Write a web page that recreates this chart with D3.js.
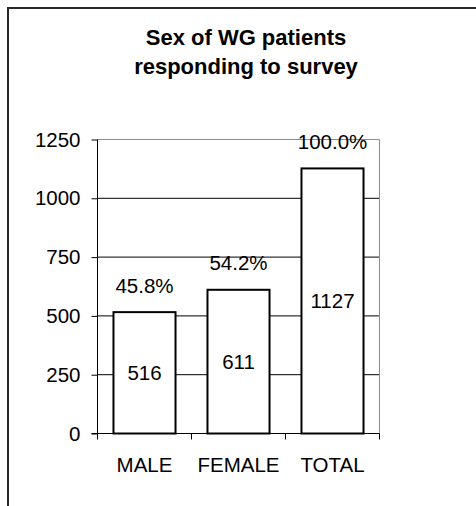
<!DOCTYPE html>
<html>
<head>
<meta charset="utf-8">
<script src="https://cdn.jsdelivr.net/npm/d3@7"></script>
<style>
  html, body { margin: 0; padding: 0; background: #fff; }
  svg { display: block; }
  text { font-family: "Liberation Sans", Arial, sans-serif; fill: #000; }
</style>
</head>
<body>
<svg id="chart" width="476" height="506"></svg>
<script>
// ---- data ----
const categories = ["MALE", "FEMALE", "TOTAL"];
const counts = [516, 611, 1127];
const percentLabels = ["45.8%", "54.2%", "100.0%"];
const yTicks = [0, 250, 500, 750, 1000, 1250];
const titleLines = ["Sex of WG patients", "responding to survey"];

// ---- layout ----
const svg = d3.select("#chart");
const plot = { left: 97.5, right: 379.5, top: 139.5, bottom: 433.5 };

// outer frame (top and left edges visible)
svg.append("line").attr("x1", 8).attr("x2", 476).attr("y1", 8).attr("y2", 8)
  .attr("stroke", "#2a2a2a").attr("stroke-width", 2);
svg.append("line").attr("x1", 8).attr("x2", 8).attr("y1", 7).attr("y2", 506)
  .attr("stroke", "#2a2a2a").attr("stroke-width", 2);

// title
svg.append("text")
  .attr("x", 246).attr("y", 45)
  .attr("text-anchor", "middle")
  .style("font-size", "22px").style("font-weight", "bold")
  .selectAll("tspan").data(titleLines).join("tspan")
  .attr("x", 246).attr("dy", (d, i) => i === 0 ? 0 : 29)
  .text(d => d);

// scales
const x = d3.scaleBand().domain(categories)
  .range([plot.left, plot.right]).paddingInner(0.34).paddingOuter(0.17);
const y = d3.scaleLinear().domain([0, 1250]).range([plot.bottom, plot.top]);

// gridlines
svg.append("g").selectAll("line").data(yTicks.filter(t => t > 0 && t < 1250)).join("line")
  .attr("x1", plot.left).attr("x2", plot.right)
  .attr("y1", d => y(d)).attr("y2", d => y(d))
  .attr("stroke", "#000").attr("stroke-width", 1);

// plot area border (top + right) in grey
svg.append("path")
  .attr("d", `M${plot.left},${plot.top}H${plot.right}V${plot.bottom}`)
  .attr("fill", "none").attr("stroke", "#8c8c8c").attr("stroke-width", 1);

// bars
svg.append("g").selectAll("rect").data(categories).join("rect")
  .attr("x", d => x(d))
  .attr("width", x.bandwidth())
  .attr("y", (d, i) => y(counts[i]))
  .attr("height", (d, i) => y(0) - y(counts[i]))
  .attr("fill", "#fff").attr("stroke", "#000").attr("stroke-width", 2);

// y axis
const yAxis = d3.axisLeft(y).tickValues(yTicks).tickSize(6).tickPadding(11).tickFormat(d3.format("d"));
const gy = svg.append("g").attr("transform", `translate(${plot.left},0)`).call(yAxis);
gy.select(".domain").attr("stroke", "#000").attr("d", `M0,${plot.top}V${plot.bottom}`);
gy.selectAll(".tick line").attr("stroke", "#000");
gy.selectAll(".tick text")
  .style("font-size", "20.5px")
  .style("font-family", "'Liberation Sans', Arial, sans-serif")
  .attr("fill", "#000");

// x axis
const gx = svg.append("g").attr("transform", `translate(0,${plot.bottom})`);
gx.append("line").attr("x1", plot.left - 6).attr("x2", plot.right)
  .attr("y1", 0).attr("y2", 0).attr("stroke", "#000");
const edges = categories.map(c => x(c) - x.step() * x.paddingInner() / 2).concat([plot.right]);
edges[0] = plot.left;
gx.selectAll("line.xt").data(edges).join("line").attr("class", "xt")
  .attr("x1", d => d).attr("x2", d => d).attr("y1", 0).attr("y2", 6)
  .attr("stroke", "#000");
gx.selectAll("text").data(categories).join("text")
  .attr("x", d => x(d) + x.bandwidth() / 2)
  .attr("y", 38.5)
  .attr("text-anchor", "middle")
  .style("font-size", "20.5px")
  .text(d => d);

// value labels inside bars
svg.append("g").selectAll("text").data(categories).join("text")
  .attr("x", d => x(d) + x.bandwidth() / 2)
  .attr("y", (d, i) => (y(counts[i]) + y(0)) / 2)
  .attr("dy", "0.35em")
  .attr("text-anchor", "middle")
  .style("font-size", "20.5px")
  .text((d, i) => counts[i]);

// percentage labels above bars
svg.append("g").selectAll("text").data(categories).join("text")
  .attr("x", d => x(d) + x.bandwidth() / 2)
  .attr("y", (d, i) => y(counts[i]) - 19.5)
  .attr("text-anchor", "middle")
  .style("font-size", "20.5px")
  .text((d, i) => percentLabels[i]);
</script>
</body>
</html>
